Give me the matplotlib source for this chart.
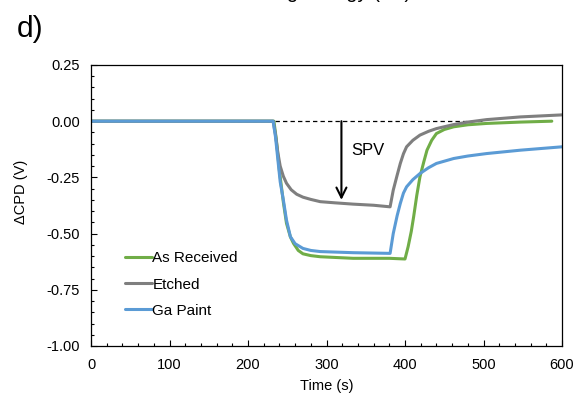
import matplotlib
matplotlib.use("Agg")
import matplotlib.pyplot as plt
from matplotlib.ticker import MultipleLocator, FormatStrFormatter

plt.rcParams['font.family'] = ['Liberation Sans', 'DejaVu Sans']
plt.rcParams['axes.unicode_minus'] = False

# data
t_received = [0, 100, 200, 233, 236, 240, 245, 249, 254, 258, 264, 270, 280, 292, 334, 380, 400,
              404, 408, 411, 415, 419, 424, 428, 434, 440, 450, 462, 480, 504, 547, 587]
v_received = [0, 0, 0, 0, -0.08, -0.22, -0.36, -0.454, -0.515, -0.544, -0.575, -0.59, -0.598, -0.603,
              -0.61, -0.61, -0.613, -0.558, -0.49, -0.425, -0.33, -0.248, -0.18, -0.129, -0.085,
              -0.055, -0.037, -0.025, -0.016, -0.01, -0.004, 0.0]

t_etched = [0, 100, 200, 232, 235, 238, 241, 245, 249, 255, 262, 270, 280, 292, 310, 334, 360, 381,
            385, 390, 394, 398, 402, 410, 419, 430, 440, 462, 480, 504, 547, 600]
v_etched = [0, 0, 0, 0, -0.06, -0.14, -0.2, -0.245, -0.276, -0.305, -0.325, -0.338, -0.348, -0.358,
            -0.363, -0.369, -0.374, -0.381, -0.307, -0.24, -0.188, -0.145, -0.114, -0.085, -0.062,
            -0.045, -0.033, -0.015, -0.004, 0.007, 0.019, 0.028]

t_ga = [0, 100, 200, 232, 235, 238, 241, 245, 249, 254, 260, 270, 280, 292, 334, 381, 385, 390,
        394, 398, 402, 410, 419, 430, 440, 462, 480, 504, 547, 600]
v_ga = [0, 0, 0, 0, -0.07, -0.17, -0.27, -0.35, -0.44, -0.514, -0.545, -0.566, -0.575, -0.58,
        -0.585, -0.588, -0.5, -0.42, -0.366, -0.32, -0.292, -0.26, -0.233, -0.207, -0.188,
        -0.166, -0.155, -0.144, -0.129, -0.114]

series = [
    ("As Received", t_received, v_received, "#70AD47"),
    ("Etched", t_etched, v_etched, "#7F7F7F"),
    ("Ga Paint", t_ga, v_ga, "#5B9BD5"),
]

baseline_t = [177, 500]
arrow_t = 319
arrow_v = [0.0, -0.35]

fig = plt.figure(figsize=(5.75, 3.96), dpi=100)
ax = fig.add_axes([0.1583, 0.1263, 0.8191, 0.7096])

ax.plot(baseline_t, [0, 0], color="black", lw=0.9, ls=(0, (3.5, 2.5)), zorder=1)
for name, t, v, c in series:
    ax.plot(t, v, color=c, lw=2.2, label=name, solid_capstyle="round")

ax.annotate("", xy=(arrow_t, arrow_v[1]), xytext=(arrow_t, arrow_v[0]),
            arrowprops=dict(arrowstyle="->", color="black", lw=1.5,
                            mutation_scale=18, shrinkA=0, shrinkB=0))
ax.text(arrow_t + 12, -0.131, "SPV", fontsize=12, va="center", ha="left")

ax.set_xlim(0, 600)
ax.set_ylim(-1.0, 0.25)
ax.xaxis.set_major_locator(MultipleLocator(100))
ax.xaxis.set_minor_locator(MultipleLocator(20))
ax.yaxis.set_major_locator(MultipleLocator(0.25))
ax.yaxis.set_minor_locator(MultipleLocator(0.05))
ax.yaxis.set_major_formatter(FormatStrFormatter("%.2f"))
ax.tick_params(which="both", direction="in", labelsize=10.5)
ax.tick_params(axis="x", pad=9)
ax.tick_params(axis="y", pad=8)
ax.tick_params(which="major", length=4, width=0.8)
ax.tick_params(which="minor", length=2.5, width=0.8)
for s in ax.spines.values():
    s.set_linewidth(0.9)

ax.set_xlabel("Time (s)", fontsize=10.5, labelpad=5)
ax.set_ylabel("ΔCPD (V)", fontsize=10.5)
ax.yaxis.set_label_coords(-0.133, 0.548)

ax.legend(loc="upper left", bbox_to_anchor=(0.072, 0.337), frameon=False,
          fontsize=11, handlelength=1.75, handletextpad=0.05,
          labelspacing=0.8, borderpad=0, borderaxespad=0)

fig.text(17 / 575, 1 - 29 / 396, "d)", fontsize=21.5, va="center", ha="left")
# axis title of the panel above, cut by the top edge as in the reference
fig.text(411 / 575, 1 + 2.5 / 396, "Binding Energy (eV)", fontsize=14.5,
         ha="right", va="baseline")

fig.savefig("out.png", dpi=100)
